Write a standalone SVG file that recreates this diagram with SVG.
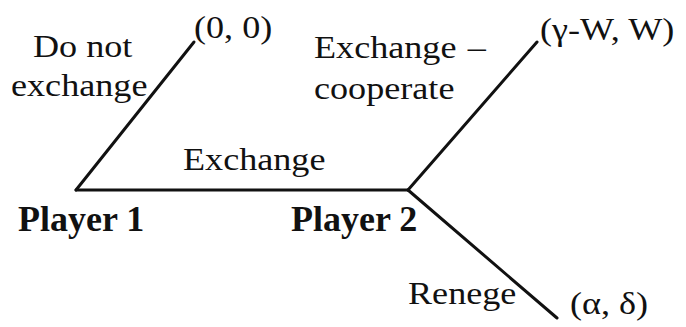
<svg xmlns="http://www.w3.org/2000/svg" width="686" height="327" viewBox="0 0 686 327">
  <style>
    .edge { stroke: #111; stroke-width: 3; stroke-linecap: round; fill: none; }
    .lbl { font-family: "Liberation Serif", "Times New Roman", serif; font-size: 32px; fill: #111; }
    .player { font-family: "Liberation Serif", "Times New Roman", serif; font-size: 36px; font-weight: bold; fill: #111; }
  </style>
  <rect width="686" height="327" fill="#fff"/>
  <g id="connectors">
    <line class="edge" x1="76" y1="190" x2="194" y2="42"/>
    <line class="edge" x1="76" y1="190" x2="408" y2="190"/>
    <line class="edge" x1="408" y1="190" x2="537" y2="42"/>
    <line class="edge" x1="408" y1="190" x2="557" y2="318"/>
  </g>
  <g id="player1">
    <text class="player" x="18" y="231">Player 1</text>
  </g>
  <g id="player2">
    <text class="player" x="291" y="231">Player 2</text>
  </g>
  <!-- regular labels are set slightly wide: scale(1.13,1) around each anchor -->
  <g id="payoff-no-exchange">
    <text class="lbl" transform="translate(194 38) scale(1.13 1)">(0, 0)</text>
  </g>
  <g id="payoff-cooperate">
    <text class="lbl" transform="translate(540 40) scale(1.13 1)">(γ-W, W)</text>
  </g>
  <g id="payoff-renege">
    <text class="lbl" transform="translate(570 314) scale(1.13 1)">(α, δ)</text>
  </g>
  <g id="edge-labels">
    <text class="lbl" transform="translate(33 57) scale(1.13 1)">Do not</text>
    <text class="lbl" transform="translate(11 96) scale(1.13 1)">exchange</text>
    <text class="lbl" transform="translate(314 58) scale(1.13 1)">Exchange<tspan dx="10">–</tspan></text>
    <text class="lbl" transform="translate(314 99) scale(1.13 1)">cooperate</text>
    <text class="lbl" transform="translate(183 170) scale(1.13 1)">Exchange</text>
    <text class="lbl" transform="translate(408 304) scale(1.13 1)">Renege</text>
  </g>
</svg>
